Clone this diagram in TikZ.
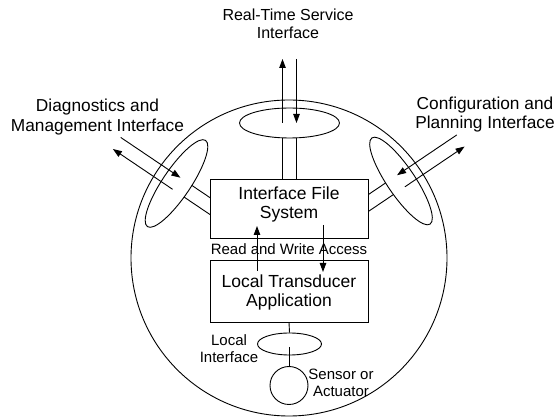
\documentclass[tikz,border=0pt]{standalone}
\usepackage{fontspec}
\setmainfont{Liberation Sans}
\usetikzlibrary{arrows.meta,calc,shapes.geometric}
\begin{document}
\begin{tikzpicture}[x=1pt,y=1pt, line width=0.9pt,
  arr/.style={-{Triangle[length=9pt,width=6.5pt]}},
  biglbl/.style={align=center, inner sep=0pt, font=\fontsize{17.3}{19.5}\selectfont},
  toplbl/.style={align=center, inner sep=0pt, font=\fontsize{16}{18}\selectfont},
  boxtxt/.style={align=center, inner sep=0pt, font=\fontsize{17.5}{19.5}\selectfont},
  smalllbl/.style={align=center, inner sep=0pt, font=\fontsize{15}{17}\selectfont},
  boxnode/.style={draw, fill=white, minimum width=158pt, inner sep=0pt}]
\useasboundingbox (0,0) rectangle (555,418);
\fill[white] (0,0) rectangle (555,418);

% sphere
\node[circle, draw, minimum size=316pt, inner sep=0pt] (sphere) at (289,160) {};

% top disk
\begin{scope}[shift={(289.5,295)}]
  \draw (0,0) ellipse [x radius=50, y radius=15];
  \coordinate (tOa) at (-7,0);  \coordinate (tOb) at (-7,64);
  \coordinate (tIa) at (7,64);  \coordinate (tIb) at (7,0);
  \coordinate (tSa) at (-7,-14.85); \coordinate (tSa2) at (-7,-70);
  \coordinate (tSb) at (7,-14.85);  \coordinate (tSb2) at (7,-70);
\end{scope}
% left disk
\begin{scope}[shift={(176.5,234.5)}, rotate=56]
  \draw (0,0) ellipse [x radius=52, y radius=14];
  \coordinate (lOa) at (-7,0);  \coordinate (lOb) at (-7,72);
  \coordinate (lIa) at (7,72);  \coordinate (lIb) at (7,0);
  \coordinate (lSa) at (-7,-13.87); \coordinate (lSa2) at (-7,-60);
  \coordinate (lSb) at (7,-13.87);  \coordinate (lSb2) at (7,-60);
\end{scope}
% right disk
\begin{scope}[shift={(401,237)}, rotate=-56]
  \draw (0,0) ellipse [x radius=52, y radius=14];
  \coordinate (rIa) at (-7,72); \coordinate (rIb) at (-7,0);
  \coordinate (rOa) at (7,0);   \coordinate (rOb) at (7,72);
  \coordinate (rSa) at (-7,-13.87); \coordinate (rSa2) at (-7,-60);
  \coordinate (rSb) at (7,-13.87);  \coordinate (rSb2) at (7,-60);
\end{scope}

% stems
\draw (tSa) -- (tSa2); \draw (tSb) -- (tSb2);
\draw (lSa) -- (lSa2); \draw (lSb) -- (lSb2);
\draw (rSa) -- (rSa2); \draw (rSb) -- (rSb2);

% interface arrows
\draw[arr] (tOa) -- (tOb); \draw[arr] (tIa) -- (tIb);
\draw[arr] (lOa) -- (lOb); \draw[arr] (lIa) -- (lIb);
\draw[arr] (rOa) -- (rOb); \draw[arr] (rIa) -- (rIb);

% boxes
\node[boxnode, minimum height=59pt] (ifs) at (289,209.5) {};
\node[boxtxt] (ifstxt) at (289,213.5) {Interface File\\System};
\node[boxnode, minimum height=62pt] (lta) at (289,127) {};
\node[boxtxt] (ltatxt) at (289,125.5) {Local Transducer\\Application};

\node[smalllbl] (rw) at (289,169) {Read and Write Access};

\coordinate (upA) at (257,147); \coordinate (upB) at (257,192);
\coordinate (dnA) at (323,193); \coordinate (dnB) at (323,146);
\draw[arr] (upA) -- (upB);
\draw[arr] (dnA) -- (dnB);

% local interface
\node[ellipse, draw, minimum width=64pt, minimum height=22pt, inner sep=0pt] (li) at (289.5,74) {};
\node[circle, draw, minimum size=38pt, inner sep=0pt] (sa) at (289,32.5) {};
\coordinate (liIn) at (289,71);
\draw (lta.south) -- (li.north);
\draw (liIn) -- (sa.north);

% labels
\node[toplbl] (rts) at (288,394) {Real-Time Service\\Interface};
\node[biglbl] (dmi) at (97.5,301) {Diagnostics and\\Management Interface};
\node[biglbl] (cpi) at (485,303.5) {Configuration and\\Planning Interface};
\node[smalllbl] (lil) at (229,69.5) {Local\\Interface};
\node[smalllbl] (sal) at (341,35.5) {Sensor or\\Actuator};
\end{tikzpicture}
\end{document}
